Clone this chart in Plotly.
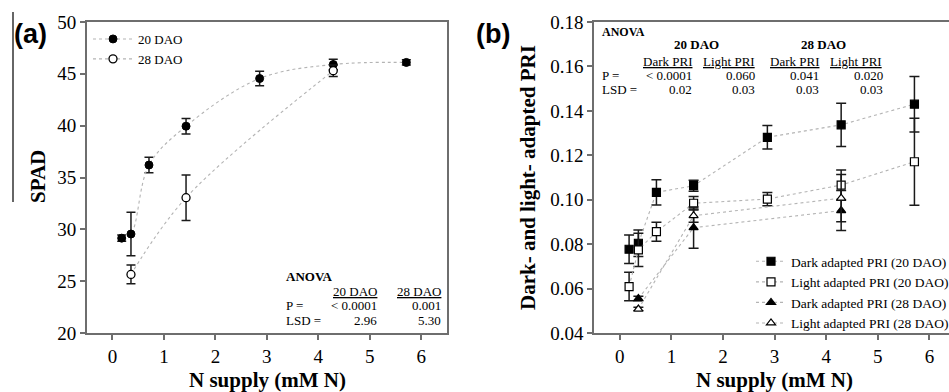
import plotly.graph_objects as go

# ---------------- data: panel (a) SPAD ----------------
n_supply = [0.18, 0.36, 0.71, 1.43, 2.86, 4.29, 5.71]
spad_20 = [29.15, 29.55, 36.2, 39.95, 44.55, 45.9, 46.1]
spad_20_err = [0.3, 2.1, 0.75, 0.75, 0.7, 0.5, 0.25]
n_supply_28 = [0.36, 1.43, 4.29]
spad_28 = [25.65, 33.05, 45.3]
spad_28_err = [0.9, 2.2, 0.55]

# ---------------- data: panel (b) PRI ----------------
dark_20 = [0.0777, 0.0804, 0.1033, 0.1063, 0.1281, 0.1337, 0.1430]
dark_20_err = [0.0064, 0.0060, 0.0057, 0.0025, 0.0053, 0.0097, 0.0125]
light_20 = [0.0609, 0.0774, 0.0856, 0.0984, 0.1003, 0.1066, 0.1171]
light_20_err = [0.0064, 0.0075, 0.0043, 0.0030, 0.0030, 0.0068, 0.0196]
dark_28 = [0.0555, 0.0874, 0.0951]
dark_28_err = [0.0010, 0.0093, 0.0090]
light_28 = [0.0508, 0.0928, 0.1007]
light_28_err = [0.0008, 0.0030, 0.0106]

W, H = 949, 392
SERIF = "Liberation Serif"
SANS = "Liberation Sans"
AX_COL = "#6e6e6e"
LINE_COL = "#b4b4b4"


def px(x):
    return x / W


def py(y):
    return 1 - y / H


fig = go.Figure()

err_a = dict(type="data", thickness=1.5, width=4.5, color="#1a1a1a")

fig.add_trace(go.Scatter(
    x=n_supply, y=spad_20, name="20 DAO", mode="lines+markers",
    line=dict(color=LINE_COL, width=1.1, dash="dot", shape="spline"),
    marker=dict(symbol="circle", size=8, color="black", line=dict(color="black", width=1)),
    error_y=dict(array=spad_20_err, **err_a),
    xaxis="x", yaxis="y", legend="legend"))
fig.add_trace(go.Scatter(
    x=n_supply_28, y=spad_28, name="28 DAO", mode="lines+markers",
    line=dict(color=LINE_COL, width=1.1, dash="dot", shape="spline"),
    marker=dict(symbol="circle", size=8, color="white", line=dict(color="black", width=1.3)),
    error_y=dict(array=spad_28_err, **err_a),
    xaxis="x", yaxis="y", legend="legend"))

err_b = dict(type="data", thickness=1.5, width=5, color="#1a1a1a")
pri_series = [
    ("Dark adapted PRI (20 DAO)", n_supply, dark_20, dark_20_err, "square", "black"),
    ("Light adapted PRI (20 DAO)", n_supply, light_20, light_20_err, "square", "white"),
    ("Dark adapted PRI (28 DAO)", n_supply_28, dark_28, dark_28_err, "triangle-up", "black"),
    ("Light adapted PRI (28 DAO)", n_supply_28, light_28, light_28_err, "triangle-up", "white"),
]
for name, xs, ys, es, sym, fill in pri_series:
    fig.add_trace(go.Scatter(
        x=xs, y=ys, name=name, mode="lines+markers",
        line=dict(color=LINE_COL, width=1.1, dash="dot"),
        marker=dict(symbol=sym, size=8, color=fill, line=dict(color="black", width=1.2)),
        error_y=dict(array=es, **err_b),
        xaxis="x2", yaxis="y2", legend="legend2"))

axis_common = dict(
    showline=True, linecolor=AX_COL, linewidth=1.5,
    ticks="outside", ticklen=5, tickwidth=1.5, tickcolor=AX_COL,
    showgrid=False, zeroline=False,
    tickfont=dict(family=SERIF, size=19, color="black"),
)

ydom = [59 / H, 370 / H]

fig.update_layout(
    width=W, height=H,
    margin=dict(l=0, r=0, t=0, b=0, autoexpand=False),
    paper_bgcolor="white", plot_bgcolor="white",
    showlegend=True,
    xaxis=dict(domain=[px(86.7), px(447)], range=[-0.5, 6.5], dtick=1, mirror=True,
               anchor="y", **axis_common),
    yaxis=dict(domain=ydom, range=[20, 50], dtick=5, mirror=True, anchor="x",
               **axis_common),
    xaxis2=dict(domain=[px(594), 1.0], range=[-0.5, 6.38], tickvals=[0, 1, 2, 3, 4, 5, 6],
                mirror=True, anchor="y2", **axis_common),
    yaxis2=dict(domain=ydom, range=[0.04, 0.18], dtick=0.02, tickformat=".2f",
                mirror=False, anchor="x2", **axis_common),
    legend=dict(x=px(88), y=py(24), xanchor="left", yanchor="top",
                font=dict(family=SERIF, size=13, color="black"),
                bgcolor="rgba(0,0,0,0)", tracegroupgap=0, itemwidth=40),
    legend2=dict(x=px(751), y=py(246), xanchor="left", yanchor="top",
                 font=dict(family=SERIF, size=13.5, color="black"),
                 bgcolor="rgba(0,0,0,0)", tracegroupgap=0, itemwidth=30),
)

ann = []


def text(x, y, s, size=13, anchor="left", bold=False, family=SERIF, angle=0):
    ann.append(dict(x=px(x), y=py(y), xref="paper", yref="paper", text=(f"<b>{s}</b>" if bold else s),
                    showarrow=False, xanchor=anchor, yanchor="middle", textangle=angle,
                    font=dict(family=family, size=size, color="black")))


# panel labels
text(12, 34, "(a)", size=27, bold=True, family=SANS)
text(474, 34, "(b)", size=27, bold=True, family=SANS)

# axis titles
text(267, 380, "N supply (mM N)", size=21, anchor="center", bold=True)
text(774, 380, "N supply (mM N)", size=21, anchor="center", bold=True)
text(38, 177, "SPAD", size=21, anchor="center", bold=True, angle=-90)
text(528, 178, "Dark- and light- adapted PRI", size=21, anchor="center", bold=True, angle=-90)

# ANOVA (a)
text(284, 276, "ANOVA", size=13, bold=True)
text(379, 291, "<u>20 DAO</u>", anchor="right")
text(443, 291, "<u>28 DAO</u>", anchor="right")
text(284, 305, "P =")
text(379, 305, "&lt; 0.0001", anchor="right")
text(443, 305, "0.001", anchor="right")
text(284, 320, "LSD =")
text(379, 320, "2.96", anchor="right")
text(443, 320, "5.30", anchor="right")

# ANOVA (b)
text(600, 32, "ANOVA", size=12, bold=True)
text(696, 45, "20 DAO", anchor="center", bold=True)
text(823, 45, "28 DAO", anchor="center", bold=True)
for xr, s in [(694, "Dark PRI"), (757, "Light PRI"), (821, "Dark PRI"), (884, "Light PRI")]:
    text(xr, 61, f"<u>{s}</u>", anchor="right")
text(600, 75, "P =")
text(600, 89, "LSD =")
for xr, p, l in [(694, "&lt; 0.0001", "0.02"), (757, "0.060", "0.03"),
                 (821, "0.041", "0.03"), (885, "0.020", "0.03")]:
    text(xr, 75, p, anchor="right")
    text(xr, 89, l, anchor="right")

fig.update_layout(annotations=ann)

# stray vertical rule at far left of the figure
fig.add_shape(type="line", xref="paper", yref="paper", x0=px(13), x1=px(13), y0=py(12), y1=py(202),
              line=dict(color="#333333", width=1.5))

fig.write_html(
    "out.html",
    config={"displayModeBar": False},
    post_script="document.body.style.margin='0px';document.body.style.overflow='hidden';",
)
